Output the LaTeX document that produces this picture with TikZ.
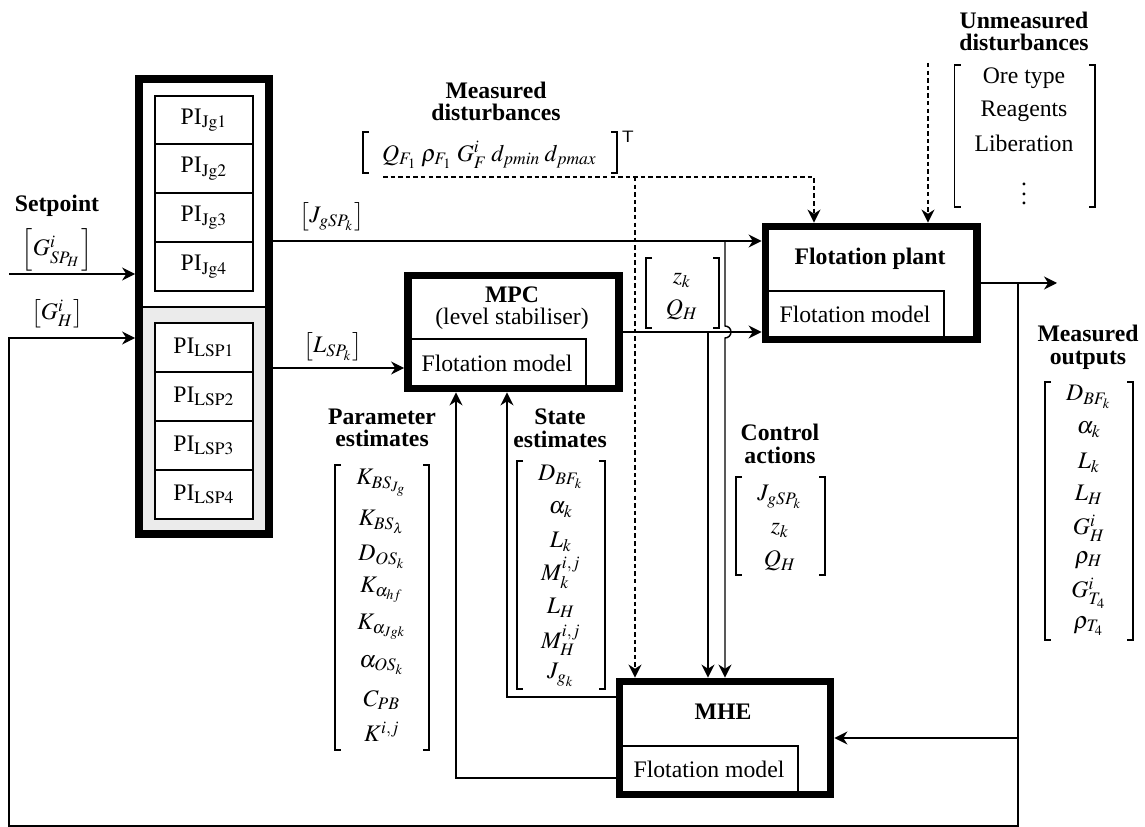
\documentclass[tikz,border=0pt]{standalone}
\usepackage{mathptmx}
\usepackage[no-math]{fontspec}
\setmainfont{Liberation Serif}
\usetikzlibrary{arrows.meta,fit}
\tikzset{
  x=0.4219pt, y=-0.4219pt,
  conn/.style={line width=0.6pt, -{Stealth[length=5.5pt,width=5.5pt]}},
  dconn/.style={conn, dash pattern=on 1.9pt off 1.3pt},
  bigbox/.style={draw, line width=3.3pt, inner sep=0pt},
  subbox/.style={draw, line width=0.6pt, inner sep=0pt, fill=white},
  brk/.style={line width=0.45pt},
  ttl/.style={font=\bfseries, align=center, inner sep=0pt},
  ent/.style={inner sep=0pt},
}
\newcommand\vbr[4]{%
  \draw[brk] (#1+6,#3) -- (#1,#3) -- (#1,#4) -- (#1+6,#4);
  \draw[brk] (#2-6,#3) -- (#2,#3) -- (#2,#4) -- (#2-6,#4);}
\begin{document}
\begin{tikzpicture}
\fill[white] (0,0) rectangle (1145,827);
\useasboundingbox (0,0) rectangle (1145,827);

% ---------- PI block ----------
\fill[black!8] (143,307) rectangle (265,530);
\draw[line width=0.8pt] (143,307) -- (265,307);
\node[subbox, fit={(155,96)(253,144)}]  (pj1) {};
\node[subbox, fit={(155,144)(253,193)}] (pj2) {};
\node[subbox, fit={(155,193)(253,242)}] (pj3) {};
\node[subbox, fit={(155,242)(253,291)}] (pj4) {};
\node[subbox, fit={(155,323)(253,372)}] (pl1) {};
\node[subbox, fit={(155,372)(253,421)}] (pl2) {};
\node[subbox, fit={(155,421)(253,470)}] (pl3) {};
\node[subbox, fit={(155,470)(253,519)}] (pl4) {};
\node[ent] (pj1x) at (pj1) {PI$_{\mathrm{Jg1}}$};
\node[ent] (pj2x) at (pj2) {PI$_{\mathrm{Jg2}}$};
\node[ent] (pj3x) at (pj3) {PI$_{\mathrm{Jg3}}$};
\node[ent] (pj4x) at (pj4) {PI$_{\mathrm{Jg4}}$};
\node[ent] (pl1x) at (pl1) {PI$_{\mathrm{LSP1}}$};
\node[ent] (pl2x) at (pl2) {PI$_{\mathrm{LSP2}}$};
\node[ent] (pl3x) at (pl3) {PI$_{\mathrm{LSP3}}$};
\node[ent] (pl4x) at (pl4) {PI$_{\mathrm{LSP4}}$};
\node[bigbox, fit={(139,79)(269,534)}] (pi) {};

% ---------- MPC ----------
\node[subbox, fit={(410,339)(586,387)}] (mpcm) {};
\node[ent] (mpcmx) at (497,363) {Flotation model};
\node[bigbox, fit={(408,275.5)(619,388.5)}] (mpc) {};
\node[ttl, font=\normalfont] (mpct) at (512,308) {\textbf{MPC}\\[-2.5pt](level stabiliser)};

% ---------- Plant ----------
\node[subbox, fit={(767,291)(944,338)}] (plm) {};
\node[ent] (plmx) at (855,314) {Flotation model};
\node[bigbox, fit={(765.5,226.5)(977,339.5)}] (plant) {};
\node[ttl] (plt) at (870,259) {Flotation plant};

% ---------- MHE ----------
\node[subbox, fit={(621,746)(798,793)}] (mhem) {};
\node[ent] (mhemx) at (709,769) {Flotation model};
\node[bigbox, fit={(619.5,681.5)(830.5,794.5)}] (mhe) {};
\node[ttl] (mhet) at (723,712) {MHE};

% ---------- coordinates ----------
\coordinate (spin) at (9,274);
\coordinate (yj) at (1018,283);
\coordinate (yout) at (1057,283);
\coordinate (fb1) at (1018,826);
\coordinate (fb2) at (9,826);
\coordinate (fb3) at (9,338);
\coordinate (jg) at (725,241);
\coordinate (lsp) at (300,368);
\coordinate (u) at (708,332);
\coordinate (ym) at (1018,738);
\coordinate (pe) at (456,778);
\coordinate (se) at (507,697);
\coordinate (md0) at (383,177);
\coordinate (md1) at (814,177);
\coordinate (md2) at (635,177);
\coordinate (ud) at (928,63);

% ---------- connectors ----------
\draw[conn] (spin) -- (pi.west |- spin);
\draw[conn] (yj) -- (fb1) -- (fb2) -- (fb3) -- (pi.west |- fb3);
\draw[conn] (plant.east |- yj) -- (yout);
\draw[conn] (pi.east |- jg) -- (plant.west |- jg);
\draw[conn] (pi.east |- lsp) -- (mpc.west |- lsp);
\draw[conn] (mpc.east |- u) -- (plant.west |- u);
\draw[conn] (u) -- (mhe.north -| u);
\draw[conn] (jg) -- (725,326) arc[start angle=90, end angle=-90, radius=2.53pt] -- (mhe.north -| jg);
\draw[conn] (ym) -- (mhe.east |- ym);
\draw[conn] (mhe.west |- pe) -| (mpc.south -| pe);
\draw[conn] (mhe.west |- se) -| (mpc.south -| se);
\draw[dconn] (md0) -- (md1) -- (plant.north -| md1);
\draw[dconn] (md2) -- (mhe.north -| md2);
\draw[dconn] (ud) -- (plant.north -| ud);

% ---------- left labels ----------
\node[ttl] (spl) at (57,206) {Setpoint};
\node[ent] (spv) at (57,250) {$\left[G^i_{SP_H}\right]$};
\node[ent] (ghv) at (57,314) {$\left[G^i_H\right]$};
\node[ent] (jgl) at (332,217) {$\left[J_{gSP_k}\right]$};
\node[ent] (lspl) at (333,347) {$\left[L_{SP_k}\right]$};

% ---------- measured disturbances ----------
\node[ttl] (mdt) at (496,101.5) {Measured\\[-2.5pt]disturbances};
\node[ent] (mdv) at (489.5,155) {\makebox[90.7pt][s]{$Q_{F_1}$\hfill$\rho_{F_1}$\hfill$G^i_F$\hfill$d_{pmin}$\hfill$d_{pmax}$}};
\vbr{363}{617}{132}{173}
\node[ent] (mdT) at (628,137) {\sffamily\scriptsize T};

% ---------- unmeasured disturbances ----------
\node[ttl] (udt) at (1024,31.5) {Unmeasured\\[-2.5pt]disturbances};
\node[ent] (ud1) at (1024,78) {Ore type};
\node[ent] (ud2) at (1024,111) {Reagents};
\node[ent] (ud3) at (1024,143) {Liberation};
\node[ent] (ud4) at (1024,187) {$\vdots$};
\vbr{954.5}{1095}{65}{207}

% ---------- z_k, Q_H ----------
\node[ent] (zk) at (682,280) {$z_k$};
\node[ent] (qh) at (682,310) {$Q_H$};
\vbr{646}{719}{258}{328}

% ---------- parameter estimates ----------
\node[ttl] (pet) at (382,428) {Parameter\\[-2.5pt]estimates};
\node[ent] (p1) at (382,483) {$K_{BS_{J_g}}$};
\node[ent] (p2) at (382,522) {$K_{BS_\lambda}$};
\node[ent] (p3) at (382,557) {$D_{OS_k}$};
\node[ent] (p4) at (382,590) {$K_{\alpha_{hf}}$};
\node[ent] (p5) at (382,627) {$K_{\alpha_{Jgk}}$};
\node[ent] (p6) at (382,665) {$\alpha_{OS_k}$};
\node[ent] (p7) at (382,700) {$C_{PB}$};
\node[ent] (p8) at (382,732) {$K^{i,j}$};
\vbr{335}{429}{465}{750}

% ---------- state estimates ----------
\node[ttl] (set) at (560,428.5) {State\\[-2.5pt]estimates};
\node[ent] (s1) at (561,477) {$D_{BF_k}$};
\node[ent] (s2) at (561,510) {$\alpha_k$};
\node[ent] (s3) at (561,542) {$L_k$};
\node[ent] (s4) at (561,573) {$M^{i,j}_k$};
\node[ent] (s5) at (561,608) {$L_H$};
\node[ent] (s6) at (561,640) {$M^{i,j}_H$};
\node[ent] (s7) at (561,675) {$J_{g_k}$};
\vbr{517}{605}{461}{689}

% ---------- control actions ----------
\node[ttl] (cat) at (780,444) {Control\\[-2.5pt]actions};
\node[ent] (c1) at (780,497) {$J_{gSP_k}$};
\node[ent] (c2) at (780,530) {$z_k$};
\node[ent] (c3) at (780,561) {$Q_H$};
\vbr{736}{825}{477}{575}

% ---------- measured outputs ----------
\node[ttl] (mot) at (1088,347.5) {Measured\\[-2.5pt]outputs};
\node[ent] (m1) at (1089,397) {$D_{BF_k}$};
\node[ent] (m2) at (1089,430) {$\alpha_k$};
\node[ent] (m3) at (1089,463) {$L_k$};
\node[ent] (m4) at (1089,495) {$L_H$};
\node[ent] (m5) at (1089,528) {$G^i_H$};
\node[ent] (m6) at (1089,560) {$\rho_H$};
\node[ent] (m7) at (1089,593) {$G^i_{T_4}$};
\node[ent] (m8) at (1089,626) {$\rho_{T_4}$};
\vbr{1045}{1133}{382}{640}
\end{tikzpicture}
\end{document}
